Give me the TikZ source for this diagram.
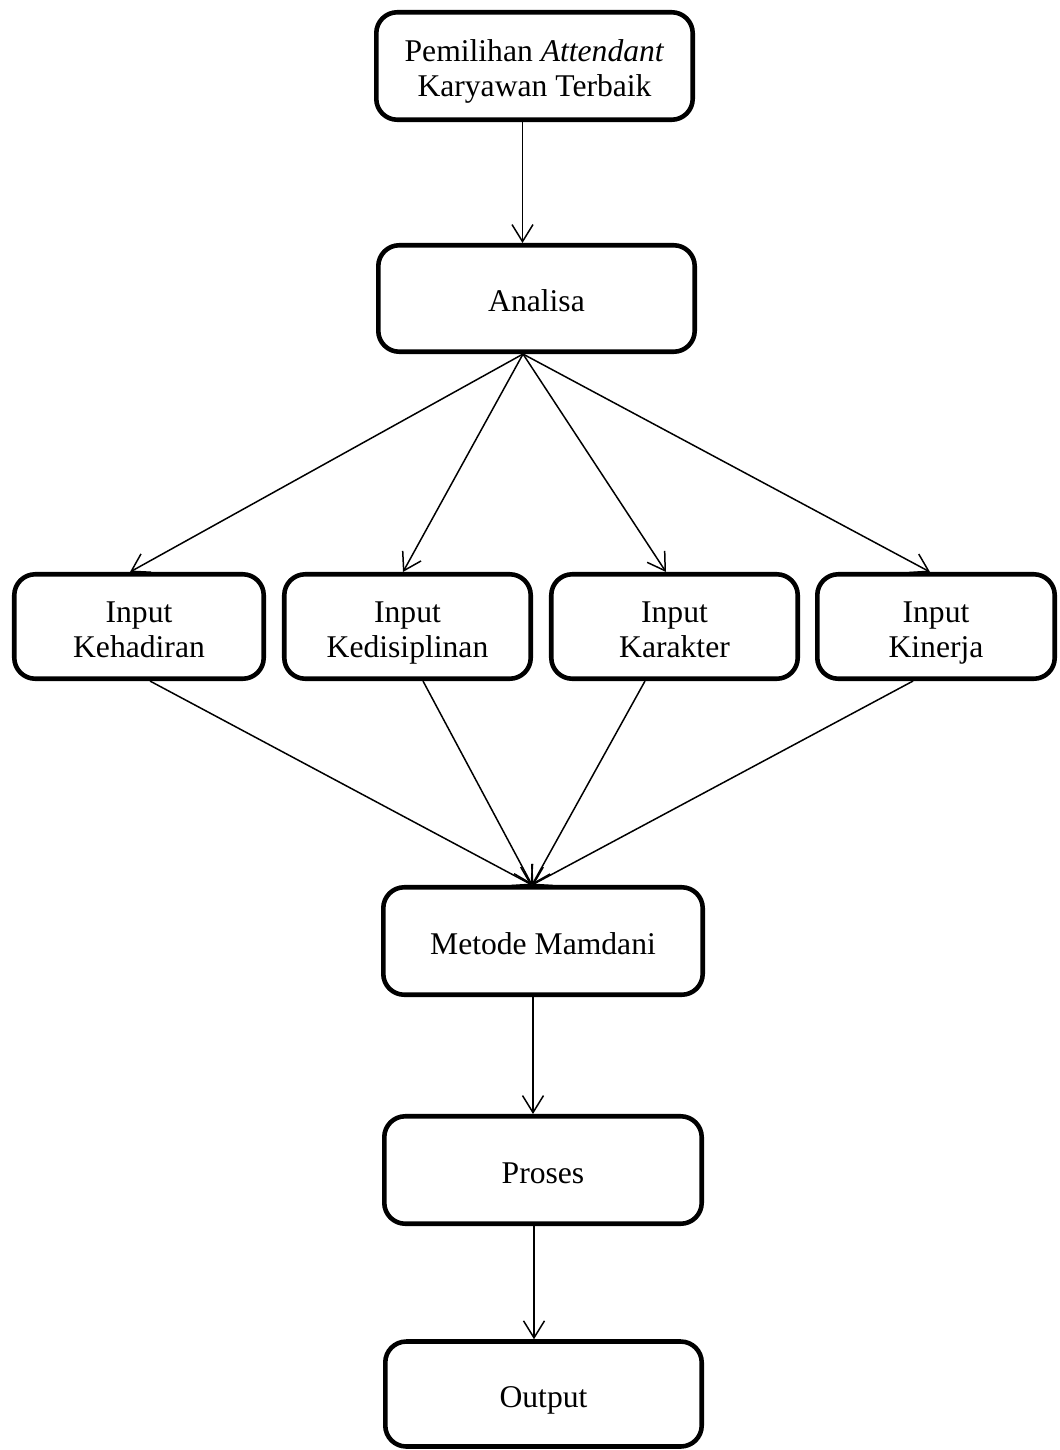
\documentclass[tikz,border=0pt]{standalone}
\usepackage{fontspec}
\setmainfont{Liberation Serif}
\usepackage{tikz}
\usetikzlibrary{arrows.meta}

\begin{document}
\begin{tikzpicture}[x=0.02cm, y=0.02cm]
\tikzstyle{kotak}=[draw=black, line width=2.6pt, rounded corners=0.42cm, align=center, inner sep=0pt, font=\fontsize{18}{20}\selectfont, execute at begin node={\rule{0pt}{20pt}}, execute at end node={\rule[-5pt]{0pt}{5pt}}]
\tikzstyle{kotakdua}=[kotak, execute at begin node={\rule{0pt}{40pt}}]
\tikzstyle{panah}=[draw=black, line width=0.85pt, -{Straight Barb[length=0.34cm, width=0.42cm, line width=0.85pt]}]
\useasboundingbox (0,0) rectangle (1059,-1450);
\node[kotakdua, minimum width=6.33cm, minimum height=2.15cm] (judul) at (534.5,-66) {Pemilihan \textit{Attendant}\\Karyawan Terbaik};
\node[kotak, minimum width=6.33cm, minimum height=2.13cm] (analisa) at (536.5,-298.5) {Analisa};
\node[kotakdua, minimum width=4.99cm, minimum height=2.09cm] (kehadiran) at (139,-626.5) {Input\\Kehadiran};
\node[kotakdua, minimum width=4.93cm, minimum height=2.09cm] (kedisiplinan) at (407.5,-626.5) {Input\\Kedisiplinan};
\node[kotakdua, minimum width=4.93cm, minimum height=2.09cm] (karakter) at (674.5,-626.5) {Input\\Karakter};
\node[kotakdua, minimum width=4.75cm, minimum height=2.09cm] (kinerja) at (936,-626.5) {Input\\Kinerja};
\node[kotak, minimum width=6.39cm, minimum height=2.15cm] (mamdani) at (543,-941) {Metode Mamdani};
\node[kotak, minimum width=6.35cm, minimum height=2.15cm] (proses) at (543,-1170) {Proses};
\node[kotak, minimum width=6.33cm, minimum height=2.1cm] (output) at (543.5,-1394) {Output};
\coordinate (apex) at ([xshift=-0.27cm]analisa.south);
\coordinate (temu) at ([xshift=-0.22cm]mamdani.north);
\draw[panah] ([xshift=-0.24cm]judul.south) -- ([xshift=-0.24cm]judul.south |- analisa.north);
\foreach \n/\dx in {kehadiran/-0.18, kedisiplinan/-0.09, karakter/-0.17, kinerja/-0.12}
  \draw[panah] (apex) -- ([xshift=\dx cm]\n.north);
\foreach \n/\dx in {kehadiran/0.22, kedisiplinan/0.31, karakter/-0.59, kinerja/-0.46}
  \draw[panah] ([xshift=\dx cm]\n.south) -- (temu);
\draw[panah] ([xshift=-0.2cm]mamdani.south) -- ([xshift=-0.2cm]mamdani.south |- proses.north);
\draw[panah] ([xshift=-0.18cm]proses.south) -- ([xshift=-0.18cm]proses.south |- output.north);
\end{tikzpicture}
\end{document}
